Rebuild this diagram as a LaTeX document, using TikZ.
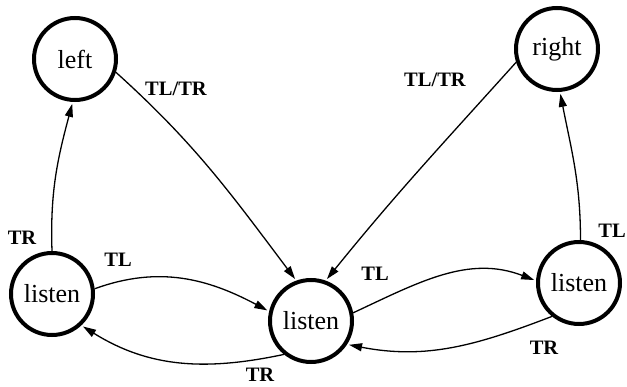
\documentclass[tikz,border=0pt]{standalone}
\usepackage{fontspec}
\setmainfont{Liberation Serif}
\usepackage{tikz}
\usetikzlibrary{
  arrows.meta,
  calc
}
\tikzset{
  state/.style={
    circle,
    draw,
    line width=4pt,
    minimum size=82pt,
    inner sep=0pt,
    font=\fontsize{26}{30}\selectfont},
  lbl/.style={
    inner sep=0pt,
    font=\bfseries\fontsize{20.5}{24}\selectfont},
  tr/.style={
    -{Triangle[length=13pt,width=8pt]},
    line width=1.3pt,
    shorten >=2pt}
  }

\begin{document}
\begin{tikzpicture}[x=1pt,y=1pt]
		\useasboundingbox (0,0) rectangle (627,386);
		% states
		\node [state] (left) at (75,327) {left};
		\node [state] (right) at (557,337) {right};
		\node [state] (lsn) at (52,92) {listen};
		\node [state] (msn) at (311,65) {listen};
		\node [state] (rsn) at (579,103) {listen};
		% transitions
		\draw [tr] (lsn.90) to [out=92, in=-105] (left.-93);
		\draw [tr] (left.-18) to [out=-42, in=127] (msn.110);
		\draw [tr] (right.198) to [out=-132, in=51] (msn.70);
		\draw [tr] (rsn.88) to [out=90, in=-79] (right.-86);
		\draw [tr] (lsn.7) to [out=20, in=152] (msn.167);
		\draw [tr] (msn.-129) to [out=-168, in=-32] (lsn.-47);
		\draw [tr] (msn.11) to [out=25, in=159] (rsn.177);
		\draw [tr] (rsn.-129) to [out=-159, in=-11] (msn.-33);
		% labels
		\node [lbl] (l1) at (176,297) {TL/TR};
		\node [lbl] (l2) at (435,306) {TL/TR};
		\node [lbl] (l3) at (22,148) {TR};
		\node [lbl] (l4) at (612,155) {TL};
		\node [lbl] (l5) at (118,126) {TL};
		\node [lbl] (l6) at (260,11) {TR};
		\node [lbl] (l7) at (375,112) {TL};
		\node [lbl] (l8) at (544,38) {TR};
	\end{tikzpicture}
\end{document}
